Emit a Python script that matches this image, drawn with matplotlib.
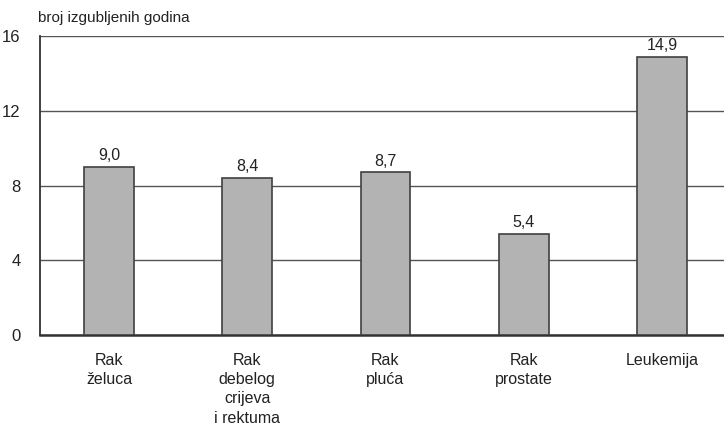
import matplotlib.pyplot as plt

categories = ["Rak\nželuca", "Rak\ndebelog\ncrijeva\ni rektuma", "Rak\npluća", "Rak\nprostate", "Leukemija"]
values = [9.0, 8.4, 8.7, 5.4, 14.9]
yticks = [0, 4, 8, 12, 16]

plt.rcParams['font.family'] = ['Liberation Sans Narrow', 'Liberation Sans', 'DejaVu Sans']

fig = plt.figure(figsize=(7.24, 4.30), dpi=100)
ax = fig.add_axes([40 / 724, 95 / 430, 684 / 724, 299 / 430])

x = range(len(values))
ax.bar(x, values, width=0.36, color="#b3b3b3", edgecolor="#404040", linewidth=1.2, zorder=3)
for xi, v in zip(x, values):
    ax.text(xi, v + 0.2, f"{v:.1f}".replace(".", ","), ha="center", va="bottom",
            fontsize=11.5, color="#222222")

ax.set_xlim(-0.5, 4.45)
ax.set_ylim(0, 16)
ax.set_yticks(yticks)
ax.set_xticks(list(x))
ax.set_xticklabels(categories, fontsize=11.5, color="#222222", linespacing=1.35)
ax.tick_params(axis="y", length=0, labelsize=12, labelcolor="#222222", pad=14)
ax.tick_params(axis="x", length=0, pad=13)
ax.grid(axis="y", color="#555555", linewidth=1, zorder=0)
for s in ["top", "right"]:
    ax.spines[s].set_visible(False)
ax.spines["left"].set_color("#333333")
ax.spines["bottom"].set_color("#333333")
ax.spines["left"].set_linewidth(1.3)
ax.spines["bottom"].set_linewidth(1.8)

fig.text(38 / 724, 1 - 18 / 430, "broj izgubljenih godina", fontsize=11, color="#222222", va="center")

fig.savefig("out.png", dpi=100)
